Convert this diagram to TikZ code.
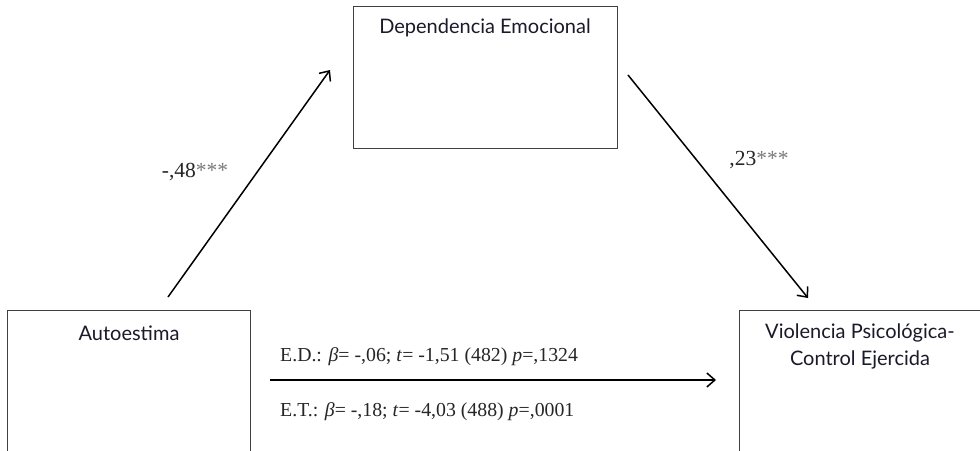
\documentclass[tikz,border=0pt]{standalone}
\usepackage{fontspec}
\setmainfont{Liberation Serif}
\newfontfamily\boxfont{Lato}
\usetikzlibrary{arrows.meta}
\definecolor{boxline}{HTML}{404040}
\definecolor{labtext}{HTML}{1A1A2A}
\definecolor{stargray}{HTML}{7A7A7A}
\tikzset{
  varbox/.style={draw=boxline, line width=1pt, rectangle, inner sep=0pt},
  varlabel/.style={font=\boxfont\fontsize{20}{27}\selectfont, text=labtext, align=center, inner sep=0pt},
  patharrow/.style={draw=black, line width=1.5pt, -{Straight Barb[length=8pt,width=14pt,line width=1.5pt]}},
  coef/.style={font=\fontsize{21.5}{24}\selectfont, text=black!85, inner sep=0pt},
  stats/.style={font=\fontsize{19.8}{22}\selectfont, text=black!85, inner sep=0pt, anchor=west}
}
\newcommand{\stars}{\textcolor{stargray}{***}}
\begin{document}
\begin{tikzpicture}[x=1pt,y=-1pt]
\clip (0,0) rectangle (980,450);
\fill[white] (0,0) rectangle (980,450);
% boxes
\node[varbox, minimum width=264pt, minimum height=142pt] (dep) at (485,77) {};
\node[varbox, minimum width=243pt, minimum height=180pt] (auto) at (128.5,400) {};
\node[varbox, minimum width=270pt, minimum height=180pt] (viol) at (874,400) {};
% labels
\node[varlabel] (deplab) at (485,28) {Dependencia Emocional};
\node[varlabel] (autolab) at (129,333) {Autoestima};
\node[varlabel] (violab) at (860,346) {Violencia Psicológica-\\Control Ejercida};
% arrow ends
\coordinate (a1s) at (168,297);
\coordinate (a1e) at (330,70);
\coordinate (a2s) at (628,75);
\coordinate (a2e) at (808,298);
\coordinate (a3s) at (270,380);
\coordinate (a3e) at (716,380);
\draw[patharrow] (a1s) -- (a1e);
\draw[patharrow] (a2s) -- (a2e);
\draw[patharrow] (a3s) -- (a3e);
% coefficients
\node[coef] (c1) at (195,172) {-,48\stars};
\node[coef] (c2) at (759,160) {,23\stars};
\node[stats] (ed) at (280,357) {E.D.: \textit{β}= -,06; \textit{t}= -1,51 (482) \textit{p}=,1324};
\node[stats] (et) at (280,412) {E.T.: \textit{β}= -,18; \textit{t}= -4,03 (488) \textit{p}=,0001};
\end{tikzpicture}
\end{document}
